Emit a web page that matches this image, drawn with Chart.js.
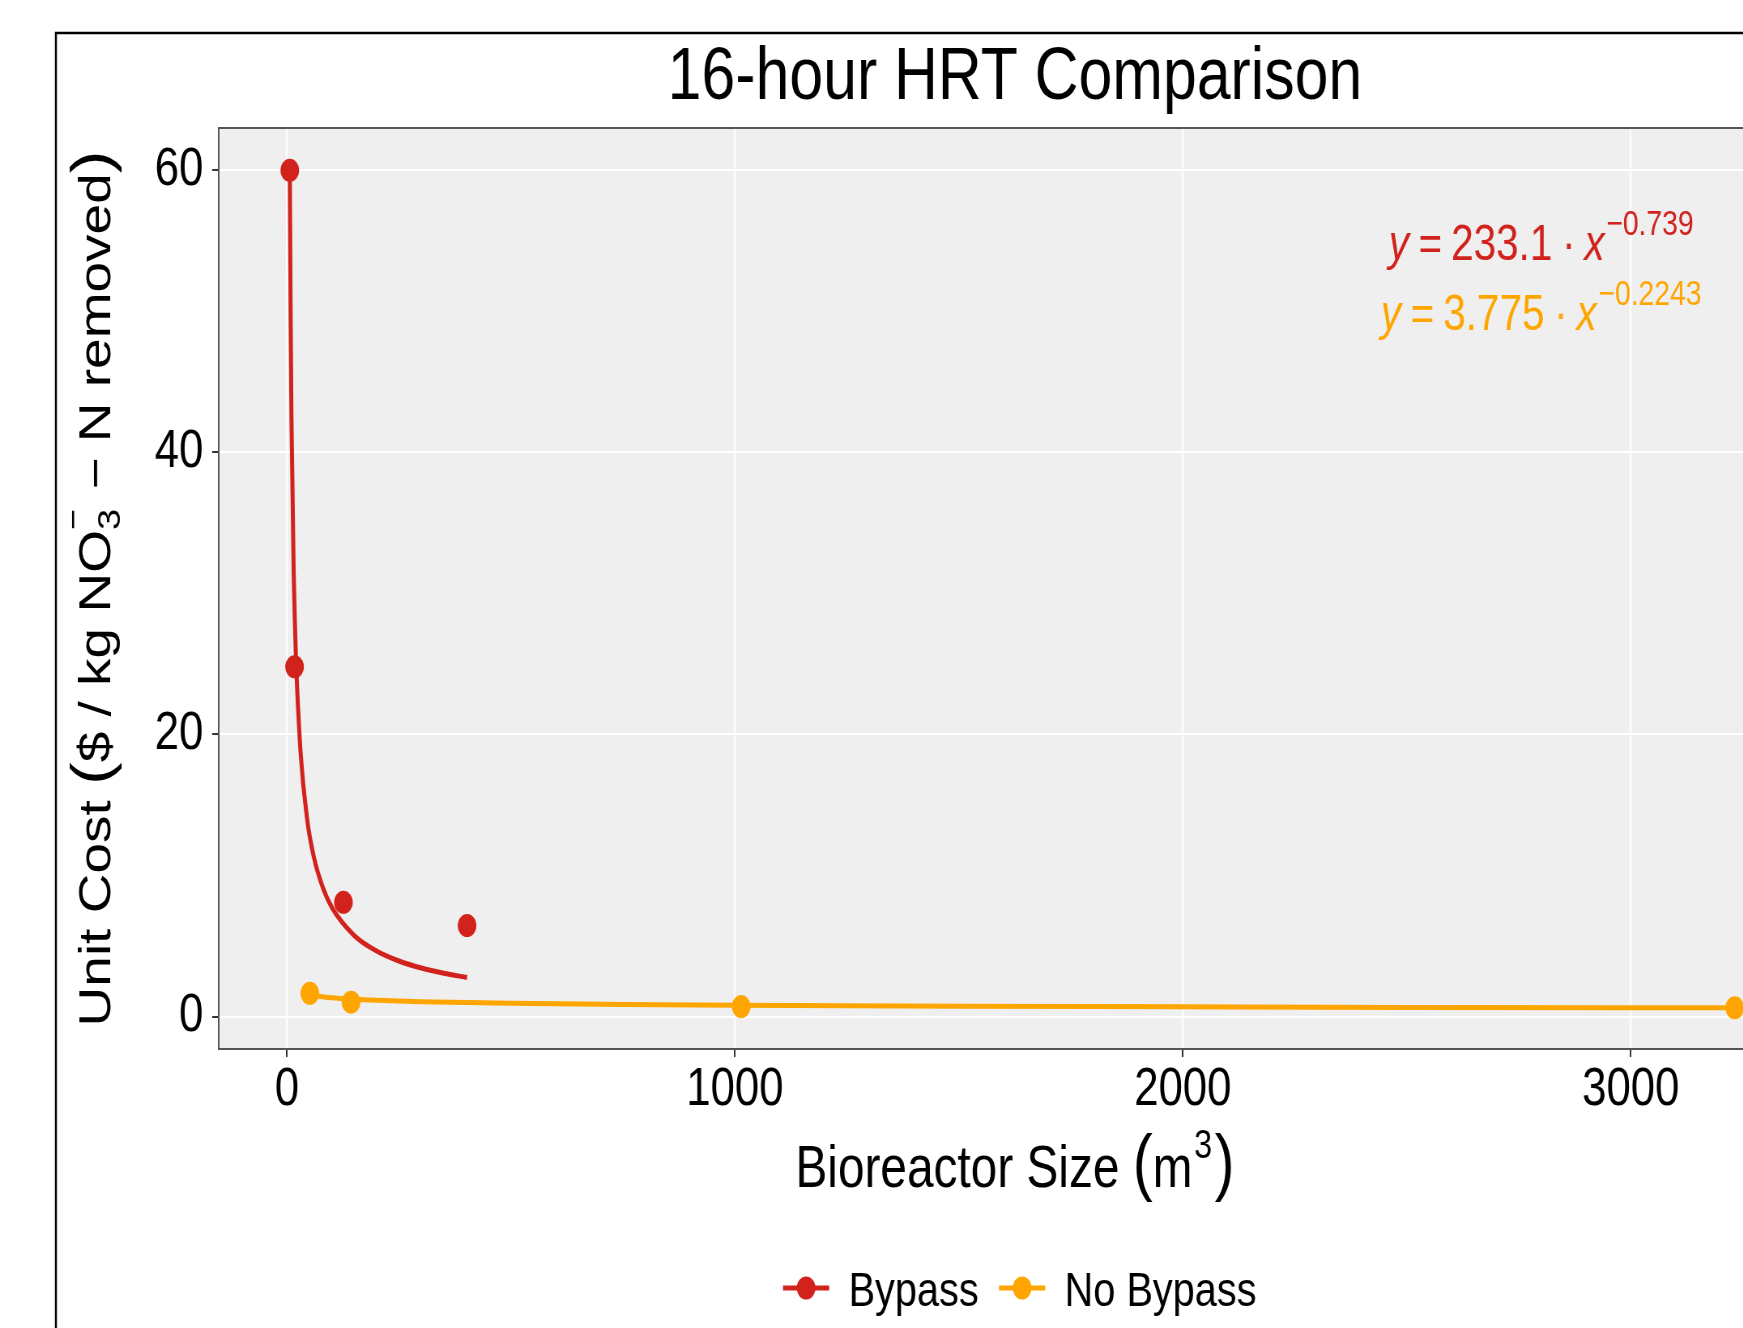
<!DOCTYPE html>
<html>
<head>
<meta charset="utf-8">
<script src="https://cdn.jsdelivr.net/npm/chart.js@4.4.0/dist/chart.umd.min.js"></script>
<style>
	html, body { margin: 0; padding: 0; background: #fff; overflow: hidden; }
	#wrap { width: 1743px; height: 1328px; overflow: hidden; position: relative; }
	/* the original export is squeezed sideways, so draw wide and compress */
	#chart { position: absolute; left: 0; top: 0; transform: scaleX(0.81); transform-origin: 0 0; }
</style>
</head>
<body>
<div id="wrap"><canvas id="chart" width="2500" height="1328"></canvas></div>
<script>
// ---- data ----
const bypassSize = [6.3, 17, 126, 402];
const bypassCost = [60, 24.8, 8.1, 6.45];
const noBypassSize = [51, 143, 1014, 3232];
const noBypassCost = [1.65, 1.02, 0.71, 0.62];

// fitted power curves, sampled along the drawn lines
const bypassFitSize = [6.3, 8, 10, 15, 20, 30, 45, 60, 80, 100, 150, 200, 250, 300, 350, 402];
const bypassFitCost = [60, 50.1, 42.5, 31.5, 25.5, 18.9, 14.0, 11.3, 9.15, 7.75, 5.75, 4.65, 3.94, 3.44, 3.07, 2.77];
const noBypassFitSize = [51, 75, 100, 143, 200, 300, 500, 750, 1000, 1500, 2000, 2500, 3232];
const noBypassFitCost = [1.56, 1.43, 1.34, 1.24, 1.15, 1.05, 0.94, 0.86, 0.80, 0.73, 0.69, 0.65, 0.62];

const xTicks = [0, 1000, 2000, 3000];
const yTicks = [0, 20, 40, 60];
const seriesNames = ['Bypass', 'No Bypass'];
const seriesColors = ['#D2221C', '#FFA500'];

// equation labels: [coefficient, exponent, x, y]
const fitLabels = [['233.1', '\u22120.739', 2800, 55], ['3.775', '\u22120.2243', 2800, 50]];

const FONT = '"Liberation Sans", Arimo, Arial, sans-serif';
const f = (size, style) => (style ? style + ' ' : '') + size + 'px ' + FONT;

const pts = (xs, ys) => xs.map((x, i) => ({ x: x, y: ys[i] }));

// measure / draw runs of text with sub and superscripts
function measureParts(c, parts) {
	let w = 0;
	parts.forEach(p => {
		c.font = p.font;
		p.w = p.adv === false ? 0 : c.measureText(p.t).width + (p.gap || 0);
		w += p.w;
	});
	return w;
}
function drawParts(c, parts, x, y) {
	parts.forEach(p => {
		c.font = p.font;
		c.fillText(p.t, x, y + (p.dy || 0));
		x += p.w;
	});
}

const decorPlugin = {
	id: 'decor',
	beforeDraw(chart) {
		const c = chart.ctx, a = chart.chartArea;
		c.save();
		c.fillStyle = '#fff';
		c.fillRect(0, 0, chart.width, chart.height);
		// outer frame (right and bottom edges fall outside the picture)
		c.strokeStyle = '#000';
		c.lineWidth = 2.5;
		c.strokeRect(69, 33, 2380, 1400);
		c.fillStyle = '#EFEFEF';
		c.fillRect(a.left, a.top, a.right - a.left, a.bottom - a.top);
		c.restore();
	},
	afterDraw(chart) {
		const c = chart.ctx, a = chart.chartArea;
		const xs = chart.scales.x, ys = chart.scales.y;
		const midX = (a.left + a.right) / 2;
		c.save();
		c.strokeStyle = '#555';
		c.lineWidth = 2;
		c.strokeRect(a.left, a.top, a.right - a.left, a.bottom - a.top);

		c.textBaseline = 'alphabetic';
		c.textAlign = 'left';
		c.fillStyle = '#000';

		// title
		c.font = f(75);
		c.textAlign = 'center';
		c.fillText('16-hour HRT Comparison', midX, 99);
		c.textAlign = 'left';

		// x title
		const xt = [
			{ t: 'Bioreactor Size ', font: f(59) },
			{ t: '(', font: f(74) },
			{ t: 'm', font: f(59), gap: 2 },
			{ t: '3', font: f(40), dy: -29, gap: 3 },
			{ t: ')', font: f(74) }
		];
		const xw = measureParts(c, xt);
		drawParts(c, xt, midX - xw / 2, 1187);

		// y title, rotated
		const yt = [
			{ t: 'Unit Cost ', font: f(55) },
			{ t: '(', font: f(68) },
			{ t: '$ / kg NO', font: f(55) },
			{ t: '\u2212', font: f(36), dy: -34, adv: false },
			{ t: '3', font: f(38), dy: 12, gap: 4 },
			{ t: ' \u2212 N removed', font: f(55) },
			{ t: ')', font: f(68) }
		];
		const yw = measureParts(c, yt);
		c.save();
		c.translate(136, (a.top + a.bottom) / 2);
		c.rotate(-Math.PI / 2);
		drawParts(c, yt, -yw / 2, 0);
		c.restore();

		// fit equations
		fitLabels.forEach((lab, i) => {
			c.fillStyle = seriesColors[i];
			const parts = [
				{ t: 'y', font: f(50, 'italic'), gap: -2 },
				{ t: ' = ', font: f(50), gap: -3 },
				{ t: lab[0], font: f(50), gap: -2 },
				{ t: ' \u00B7 ', font: f(50), gap: -3 },
				{ t: 'x', font: f(50, 'italic'), gap: 2 },
				{ t: lab[1], font: f(35), dy: -25 }
			];
			const w = measureParts(c, parts);
			drawParts(c, parts, xs.getPixelForValue(lab[2]) - w / 2, ys.getPixelForValue(lab[3]) + 19);
		});

		// legend
		c.font = f(49);
		const keyW = 57, keyGap = 24, itemGap = 25;
		const tw = seriesNames.map(n => c.measureText(n).width);
		const total = keyW * 2 + keyGap * 2 + itemGap + tw[0] + tw[1];
		let lx = 1259 - total / 2;
		const ly = 1288;
		seriesNames.forEach((n, i) => {
			c.strokeStyle = seriesColors[i];
			c.fillStyle = seriesColors[i];
			c.lineWidth = 5;
			c.beginPath();
			c.moveTo(lx, ly);
			c.lineTo(lx + keyW, ly);
			c.stroke();
			c.beginPath();
			c.arc(lx + keyW / 2, ly, 11.5, 0, Math.PI * 2);
			c.fill();
			c.fillStyle = '#000';
			c.fillText(n, lx + keyW + keyGap, 1306);
			lx += keyW + keyGap + tw[i] + itemGap;
		});
		c.restore();
	}
};

const axisFont = { family: FONT, size: 54 };

new Chart(document.getElementById('chart'), {
	type: 'line',
	data: {
		datasets: [
			{ label: seriesNames[0], data: pts(bypassSize, bypassCost), showLine: false, pointRadius: 11.5, pointBorderWidth: 0, backgroundColor: seriesColors[0], order: 0 },
			{ label: seriesNames[1], data: pts(noBypassSize, noBypassCost), showLine: false, pointRadius: 11.5, pointBorderWidth: 0, backgroundColor: seriesColors[1], order: 0 },
			{ label: 'fit1', data: pts(bypassFitSize, bypassFitCost), borderColor: seriesColors[0], borderWidth: 5, pointRadius: 0, cubicInterpolationMode: 'monotone', order: 1 },
			{ label: 'fit2', data: pts(noBypassFitSize, noBypassFitCost), borderColor: seriesColors[1], borderWidth: 5, pointRadius: 0, cubicInterpolationMode: 'monotone', order: 1 }
		]
	},
	options: {
		responsive: false,
		animation: false,
		devicePixelRatio: 1,
		events: [],
		layout: { padding: { left: 70, top: 128, right: 264, bottom: 179 } },
		plugins: { legend: { display: false }, tooltip: { enabled: false } },
		scales: {
			x: {
				type: 'linear',
				min: -152.4,
				max: 3402.7,
				afterBuildTicks: s => { s.ticks = xTicks.map(v => ({ value: v })); },
				afterFit: s => { s.height = 100; },
				border: { display: false },
				grid: { color: '#fff', lineWidth: 2, tickColor: '#333', tickLength: 8, tickWidth: 2 },
				ticks: { font: axisFont, color: '#000', padding: 1, maxRotation: 0, callback: v => String(v) }
			},
			y: {
				type: 'linear',
				min: -2.3,
				max: 63,
				afterBuildTicks: s => { s.ticks = yTicks.map(v => ({ value: v })); },
				afterFit: s => { s.width = 200; },
				border: { display: false },
				grid: { color: '#fff', lineWidth: 2, tickColor: '#333', tickLength: 8, tickWidth: 2 },
				ticks: { font: axisFont, color: '#000', padding: 11, callback: v => String(v) }
			}
		}
	},
	plugins: [decorPlugin]
});
</script>
</body>
</html>
